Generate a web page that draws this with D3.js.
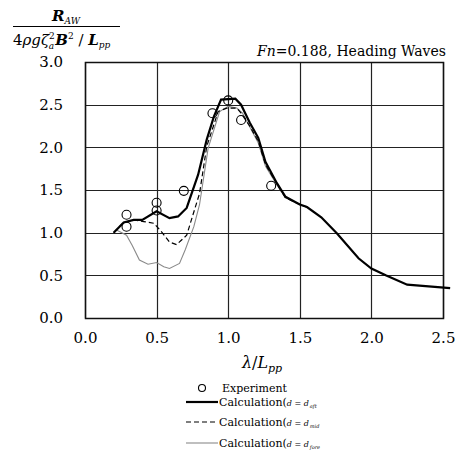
<!DOCTYPE html>
<html>
<head>
<meta charset="utf-8">
<script src="https://cdn.jsdelivr.net/npm/d3@7"></script>
<style>
body { margin: 0; background: #fff; }
text { font-family: "DejaVu Serif", serif; fill: #000; }
</style>
</head>
<body>
<svg id="chart" width="458" height="461"></svg>
<script>
// values
var xTicks = [0, 0.5, 1.0, 1.5, 2.0, 2.5];
var yTicks = [0, 0.5, 1.0, 1.5, 2.0, 2.5, 3.0];

var aftX = [0.20, 0.27, 0.34, 0.40, 0.50, 0.59, 0.65, 0.71, 0.79, 0.85, 0.90, 0.95, 1.05, 1.09, 1.15, 1.21, 1.26, 1.34, 1.40, 1.50, 1.55, 1.65, 1.76, 1.91, 2.00, 2.10, 2.25, 2.55];
var aftY = [1.00, 1.12, 1.15, 1.15, 1.25, 1.17, 1.19, 1.29, 1.68, 2.09, 2.36, 2.56, 2.57, 2.50, 2.29, 2.11, 1.83, 1.58, 1.42, 1.33, 1.30, 1.18, 0.99, 0.70, 0.58, 0.50, 0.39, 0.35];

var midX = [0.20, 0.27, 0.34, 0.41, 0.48, 0.53, 0.59, 0.64, 0.71, 0.80, 0.85, 0.93, 0.99, 1.06, 1.09, 1.15, 1.21, 1.26, 1.34, 1.40, 1.50, 1.55];
var midY = [1.00, 1.12, 1.15, 1.13, 1.11, 1.02, 0.89, 0.86, 0.97, 1.46, 2.01, 2.42, 2.46, 2.46, 2.40, 2.25, 2.07, 1.80, 1.57, 1.41, 1.33, 1.30];

var foreX = [0.22, 0.29, 0.33, 0.38, 0.44, 0.50, 0.55, 0.59, 0.66, 0.70, 0.76, 0.80, 0.86, 0.94, 1.00, 1.06, 1.10, 1.15, 1.21, 1.26, 1.34, 1.40, 1.50, 1.55];
var foreY = [1.03, 0.97, 0.85, 0.68, 0.63, 0.65, 0.60, 0.58, 0.64, 0.80, 1.07, 1.33, 1.99, 2.42, 2.48, 2.46, 2.40, 2.24, 2.05, 1.78, 1.56, 1.41, 1.33, 1.30];

var expX = [0.29, 0.29, 0.50, 0.50, 0.69, 0.89, 1.00, 1.09, 1.30];
var expY = [1.21, 1.07, 1.35, 1.26, 1.49, 2.40, 2.55, 2.32, 1.55];

var svg = d3.select("#chart");
var plotL = 85, plotR = 443, plotT = 62, plotB = 318;

var x = d3.scaleLinear().domain([0, 2.5]).range([plotL, plotR]);
var y = d3.scaleLinear().domain([0, 3.0]).range([plotB, plotT]);
function crisp(v){ return Math.round(v) + 0.5; }

// grid
svg.append("g").selectAll("line").data(xTicks).enter().append("line")
    .attr("x1", function(d){ return crisp(x(d)); }).attr("x2", function(d){ return crisp(x(d)); })
    .attr("y1", plotT).attr("y2", plotB)
    .attr("stroke", "#222").attr("stroke-width", 1.2);
svg.append("g").selectAll("line").data(yTicks).enter().append("line")
    .attr("y1", function(d){ return crisp(y(d)); }).attr("y2", function(d){ return crisp(y(d)); })
    .attr("x1", plotL).attr("x2", plotR)
    .attr("stroke", "#222").attr("stroke-width", 1.2);
svg.append("rect").attr("x", plotL + 0.5).attr("y", plotT + 0.5)
    .attr("width", plotR - plotL).attr("height", plotB - plotT)
    .attr("fill", "none").attr("stroke", "#111").attr("stroke-width", 1.5);

// axes (labels only, no tick marks)
var xAxis = d3.axisBottom(x).tickValues(xTicks).tickFormat(d3.format(".1f")).tickSize(0).tickPadding(14);
var gx = svg.append("g").attr("transform", "translate(0," + plotB + ")").call(xAxis);
var yAxis = d3.axisLeft(y).tickValues(yTicks).tickFormat(d3.format(".1f")).tickSize(0).tickPadding(22);
var gy = svg.append("g").attr("transform", "translate(" + plotL + ",0)").call(yAxis);
[gx, gy].forEach(function(g){
    g.select(".domain").remove();
    g.selectAll("text").attr("font-family", "DejaVu Serif").attr("font-size", 15).attr("fill", "#000");
});

// curves
var line = d3.line().x(function(d){ return x(d[0]); }).y(function(d){ return y(d[1]); });
function pairs(xs, ys){ return xs.map(function(v, i){ return [v, ys[i]]; }); }

svg.append("path").datum(pairs(foreX, foreY)).attr("d", line)
    .attr("fill", "none").attr("stroke", "#8a8a8a").attr("stroke-width", 1.1);
svg.append("path").datum(pairs(midX, midY)).attr("d", line)
    .attr("fill", "none").attr("stroke", "#000").attr("stroke-width", 1.2).attr("stroke-dasharray", "5,3");
svg.append("path").datum(pairs(aftX, aftY)).attr("d", line)
    .attr("fill", "none").attr("stroke", "#000").attr("stroke-width", 2.2);

svg.append("g").selectAll("circle").data(pairs(expX, expY)).enter().append("circle")
    .attr("cx", function(d){ return x(d[0]); }).attr("cy", function(d){ return y(d[1]); })
    .attr("r", 4.5).attr("fill", "none").attr("stroke", "#000").attr("stroke-width", 1.1);

// y label as fraction
var num = svg.append("text").attr("x", 66).attr("y", 21).attr("text-anchor", "middle").attr("font-size", 15);
num.append("tspan").attr("font-style", "italic").attr("font-weight", "bold").text("R");
num.append("tspan").attr("font-style", "italic").attr("font-size", 9).attr("dy", 3).text("AW");
svg.append("line").attr("x1", 13).attr("x2", 120).attr("y1", 26.5).attr("y2", 26.5)
    .attr("stroke", "#000").attr("stroke-width", 1);
var den = svg.append("text").attr("x", 13).attr("y", 45).attr("font-size", 15);
den.append("tspan").text("4");
den.append("tspan").attr("font-style", "italic").text("ρgζ");
den.append("tspan").attr("font-size", 9).attr("dy", -6).text("2");
den.append("tspan").attr("font-size", 9).attr("font-style", "italic").attr("dx", -6).attr("dy", 10).text("a");
den.append("tspan").attr("font-style", "italic").attr("font-weight", "bold").attr("dx", 1).attr("dy", -4).text("B");
den.append("tspan").attr("font-size", 9).attr("dy", -6).text("2");
den.append("tspan").attr("dy", 6).text(" / ");
den.append("tspan").attr("font-style", "italic").attr("font-weight", "bold").text("L");
den.append("tspan").attr("font-size", 9).attr("font-style", "italic").attr("dy", 3).text("pp");

// condition label
var cond = svg.append("text").attr("x", 446).attr("y", 56).attr("text-anchor", "end").attr("font-size", 14);
cond.append("tspan").attr("font-style", "italic").text("Fn");
cond.append("tspan").text("=0.188, Heading Waves");

// x label
var xl = svg.append("text").attr("x", 262).attr("y", 368).attr("text-anchor", "middle").attr("font-size", 16);
xl.append("tspan").attr("font-style", "italic").text("λ");
xl.append("tspan").text("/");
xl.append("tspan").attr("font-style", "italic").text("L");
xl.append("tspan").attr("font-style", "italic").attr("font-size", 11).attr("dy", 4).text("pp");

// legend
var legX1 = 186, legX2 = 218;
svg.append("circle").attr("cx", 202).attr("cy", 388).attr("r", 3.5)
    .attr("fill", "none").attr("stroke", "#000").attr("stroke-width", 1.1);
svg.append("text").attr("x", 222).attr("y", 392).attr("font-size", 11).text("Experiment");

var legRows = [
    { y: 402, sub: "aft", stroke: "#000", width: 2.2, dash: null },
    { y: 422, sub: "mid", stroke: "#000", width: 1.2, dash: "5,3" },
    { y: 443, sub: "fore", stroke: "#8a8a8a", width: 1.1, dash: null }
];
legRows.forEach(function(r){
    svg.append("line").attr("x1", legX1).attr("x2", legX2).attr("y1", r.y).attr("y2", r.y)
        .attr("stroke", r.stroke).attr("stroke-width", r.width).attr("stroke-dasharray", r.dash);
    var t = svg.append("text").attr("x", 219).attr("y", r.y + 4).attr("font-size", 11);
    t.append("tspan").text("Calculation(");
    t.append("tspan").attr("font-style", "italic").attr("font-size", 8).text("d = d");
    t.append("tspan").attr("font-style", "italic").attr("font-size", 5).attr("dy", 2).attr("dx", 1).text(r.sub);
});
</script>
</body>
</html>
